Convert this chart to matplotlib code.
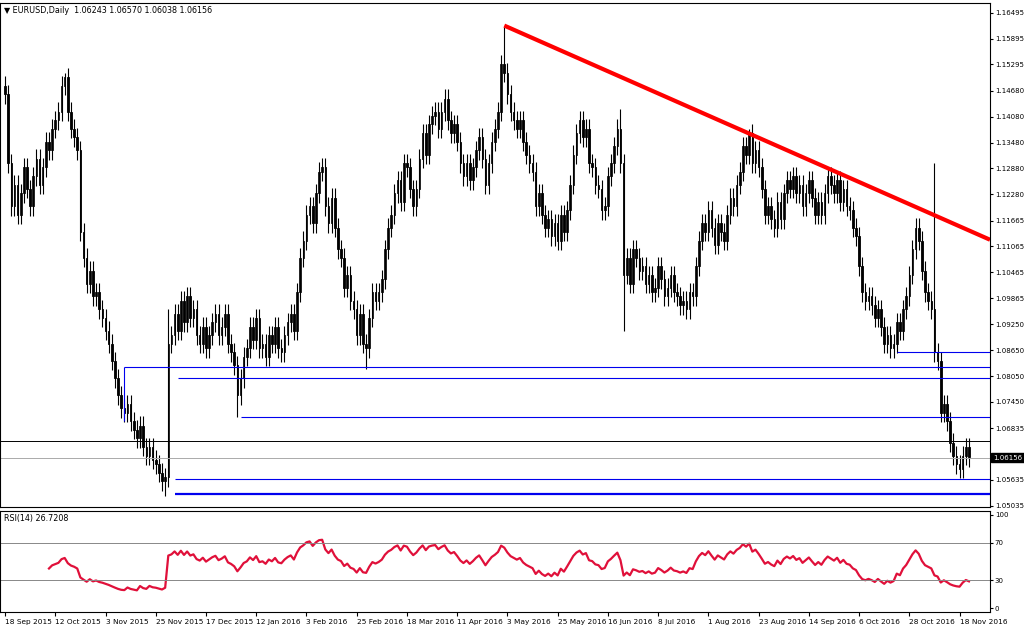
import numpy as np
import matplotlib
matplotlib.use("Agg")
import matplotlib.pyplot as plt

closes = [
1.1460,1.1300,1.1200,1.1250,1.1180,1.1230,1.1290,1.1240,1.1200,1.1270,1.1310,1.1250,1.1290,1.1350,1.1330,1.1380,
1.1400,1.1420,1.1480,1.1500,1.1420,1.1380,1.1360,1.1330,1.1140,1.1080,1.1020,1.1050,1.0990,1.1000,1.0960,1.0940,
1.0910,1.0880,1.0840,1.0800,1.0760,1.0730,1.0720,1.0740,1.0700,1.0680,1.0660,1.0690,1.0640,1.0620,1.0640,1.0610,
1.0600,1.0580,1.0560,1.0570,1.0880,1.0900,1.0950,1.0910,1.0980,1.0930,1.0990,1.0940,1.0960,1.0900,1.0880,1.0920,
1.0870,1.0900,1.0930,1.0950,1.0900,1.0920,1.0950,1.0880,1.0860,1.0830,1.0760,1.0800,1.0850,1.0870,1.0920,1.0890,
1.0940,1.0870,1.0880,1.0850,1.0900,1.0880,1.0920,1.0870,1.0860,1.0900,1.0930,1.0950,1.0910,1.1000,1.1080,1.1120,
1.1180,1.1200,1.1160,1.1230,1.1280,1.1290,1.1200,1.1160,1.1220,1.1150,1.1100,1.1080,1.1010,1.1040,1.0980,1.0960,
1.0900,1.0950,1.0880,1.0870,1.0940,1.1000,1.0980,1.1000,1.1030,1.1100,1.1150,1.1180,1.1230,1.1260,1.1210,1.1300,
1.1290,1.1240,1.1200,1.1240,1.1310,1.1370,1.1320,1.1390,1.1410,1.1420,1.1380,1.1420,1.1450,1.1400,1.1370,1.1390,
1.1350,1.1300,1.1270,1.1300,1.1260,1.1290,1.1330,1.1360,1.1310,1.1250,1.1300,1.1350,1.1380,1.1420,1.1530,1.1510,
1.1460,1.1420,1.1400,1.1380,1.1400,1.1350,1.1320,1.1300,1.1280,1.1200,1.1230,1.1180,1.1150,1.1170,1.1130,1.1160,
1.1120,1.1180,1.1140,1.1190,1.1250,1.1320,1.1370,1.1400,1.1360,1.1380,1.1300,1.1290,1.1250,1.1240,1.1190,1.1200,
1.1270,1.1300,1.1340,1.1380,1.1300,1.1040,1.1080,1.1020,1.1100,1.1080,1.1050,1.1060,1.1020,1.1040,1.1000,1.1010,
1.1060,1.1030,1.0990,1.1010,1.1040,1.1000,1.0990,1.0970,1.0980,1.0960,1.1000,1.0990,1.1060,1.1120,1.1160,1.1140,
1.1190,1.1150,1.1110,1.1160,1.1140,1.1120,1.1180,1.1220,1.1200,1.1250,1.1280,1.1340,1.1320,1.1370,1.1300,1.1330,
1.1290,1.1240,1.1180,1.1200,1.1170,1.1150,1.1210,1.1170,1.1230,1.1260,1.1240,1.1270,1.1230,1.1250,1.1200,1.1230,
1.1260,1.1220,1.1180,1.1210,1.1180,1.1230,1.1270,1.1250,1.1230,1.1260,1.1210,1.1240,1.1200,1.1190,1.1150,1.1130,
1.1060,1.1000,1.0980,1.0990,1.0970,1.0940,1.0960,1.0920,1.0880,1.0900,1.0870,1.0880,1.0930,1.0910,1.0960,1.0990,
1.1040,1.1100,1.1150,1.1120,1.1050,1.1000,1.0980,1.0960,1.0860,1.0840,1.0720,1.0740,1.0700,1.0650,1.0620,1.0600,
1.0590,1.0620,1.0640,1.0616]
first_open = 1.1480
spike_high = {19: 1.1510, 52: 1.0960, 159: 1.1616, 196: 1.1425, 237: 1.1380, 296: 1.1300}
spike_low = {51: 1.0525, 197: 1.0910, 74: 1.0710, 115: 1.0822}

date_labels = ["18 Sep 2015","12 Oct 2015","3 Nov 2015","25 Nov 2015","17 Dec 2015","12 Jan 2016",
               "3 Feb 2016","25 Feb 2016","18 Mar 2016","11 Apr 2016","3 May 2016","25 May 2016",
               "16 Jun 2016","8 Jul 2016","1 Aug 2016","23 Aug 2016","14 Sep 2016","6 Oct 2016",
               "28 Oct 2016","18 Nov 2016"]
price_ticks = [1.16495,1.15895,1.15295,1.14680,1.14080,1.13480,1.12880,1.12280,1.11665,1.11065,
               1.10465,1.09865,1.09250,1.08650,1.08050,1.07450,1.06835,1.05635,1.05035]
blue_levels = [(1.0825, 38), (1.0800, 55), (1.0710, 75), (1.0860, 284), (1.0565, 54)]
thick_level = (1.0530, 54)
black_level = 1.0655
last_price = 1.06156
trend_start = (159, 1.1620)
trend_end_price = 1.1122

closes = np.array(closes)
n = len(closes)
idx = np.arange(n)
opens = np.concatenate([[first_open], closes[:-1]])
highs = np.maximum(opens, closes) + 0.0022
lows = np.minimum(opens, closes) - 0.0022
for k, v in spike_high.items(): highs[k] = v
for k, v in spike_low.items(): lows[k] = v

fig = plt.figure(figsize=(10.24, 6.3), dpi=100)
W, H = 1024, 630
ax = fig.add_axes([0/W, 1-507/H, 990/W, 504/H])
ax2 = fig.add_axes([0/W, 1-612/H, 990/W, 101/H])
xmax = (990-5)/3.14
for a in (ax, ax2):
    a.set_xlim(-1.6, xmax)
    a.yaxis.tick_right()
    a.tick_params(axis='y', labelsize=5, length=2.5, pad=1)
    for s in a.spines.values():
        s.set_linewidth(0.8)

ymin, ymax = 1.05035 - 0.0003, 1.16495 + 0.0023
ax.set_ylim(ymin, ymax)
ax.vlines(idx, lows, highs, color='black', lw=0.8)
bull = closes >= opens
body_h = np.maximum(np.abs(closes-opens), 0.0003)
ax.bar(idx[bull], body_h[bull], bottom=np.minimum(opens, closes)[bull], width=0.5,
       color='white', edgecolor='black', lw=0.6)
ax.bar(idx[~bull], body_h[~bull], bottom=np.minimum(opens, closes)[~bull], width=0.5,
       color='black', edgecolor='black', lw=0.6)

for p, s in blue_levels:
    ax.hlines(p, s, xmax, color='#0000ee', lw=0.8)
ax.vlines(38, 1.0825, 1.0700, color='#0000ee', lw=0.8)
ax.hlines(thick_level[0], thick_level[1], xmax, color='#0000ee', lw=1.6)
ax.axhline(black_level, color='black', lw=0.7)
ax.axhline(last_price, color='#aaaaaa', lw=0.7)
ax.plot([trend_start[0], xmax], [trend_start[1], trend_end_price], color='red', lw=3, solid_capstyle='butt')

ax.set_yticks(price_ticks)
ax.set_yticklabels([f"{t:.5f}" for t in price_ticks])
ax.set_xticks([])
ax.text(1.003, (last_price-ymin)/(ymax-ymin), f"{last_price:.5f}", transform=ax.transAxes,
        fontsize=5, color='white', va='center', ha='left',
        bbox=dict(boxstyle='square,pad=0.25', fc='black', ec='black'), clip_on=False, zorder=5)
ax.text(0.004, 0.995, "\u25bc EURUSD,Daily  1.06243 1.06570 1.06038 1.06156", transform=ax.transAxes,
        fontsize=5.8, va='top', ha='left')

delta = np.diff(closes)
gain = np.where(delta > 0, delta, 0.0)
loss = np.where(delta < 0, -delta, 0.0)
per = 14
ag = np.zeros(n); al = np.zeros(n)
ag[per] = gain[:per].mean(); al[per] = loss[:per].mean()
for i in range(per+1, n):
    ag[i] = (ag[i-1]*(per-1) + gain[i-1])/per
    al[i] = (al[i-1]*(per-1) + loss[i-1])/per
rsi = 100 - 100/(1 + ag[per:]/np.maximum(al[per:], 1e-9))
ax2.set_ylim(-4, 104)
ax2.plot(idx[per:], rsi, color='#e0103a', lw=1.6)
ax2.axhline(70, color='#888888', lw=0.7)
ax2.axhline(30, color='#888888', lw=0.7)
ax2.set_yticks([0, 30, 70, 100])
ax2.set_yticklabels(["0", "30", "70", "100"])
ax2.text(0.004, 0.97, "RSI(14) 26.7208", transform=ax2.transAxes, fontsize=5.8, va='top')
ax2.set_xticks(np.arange(len(date_labels))*16)
ax2.set_xticklabels(date_labels, fontsize=5.3, ha='left')
ax2.tick_params(axis='x', length=3, pad=2)

fig.savefig("out.png", dpi=100)
